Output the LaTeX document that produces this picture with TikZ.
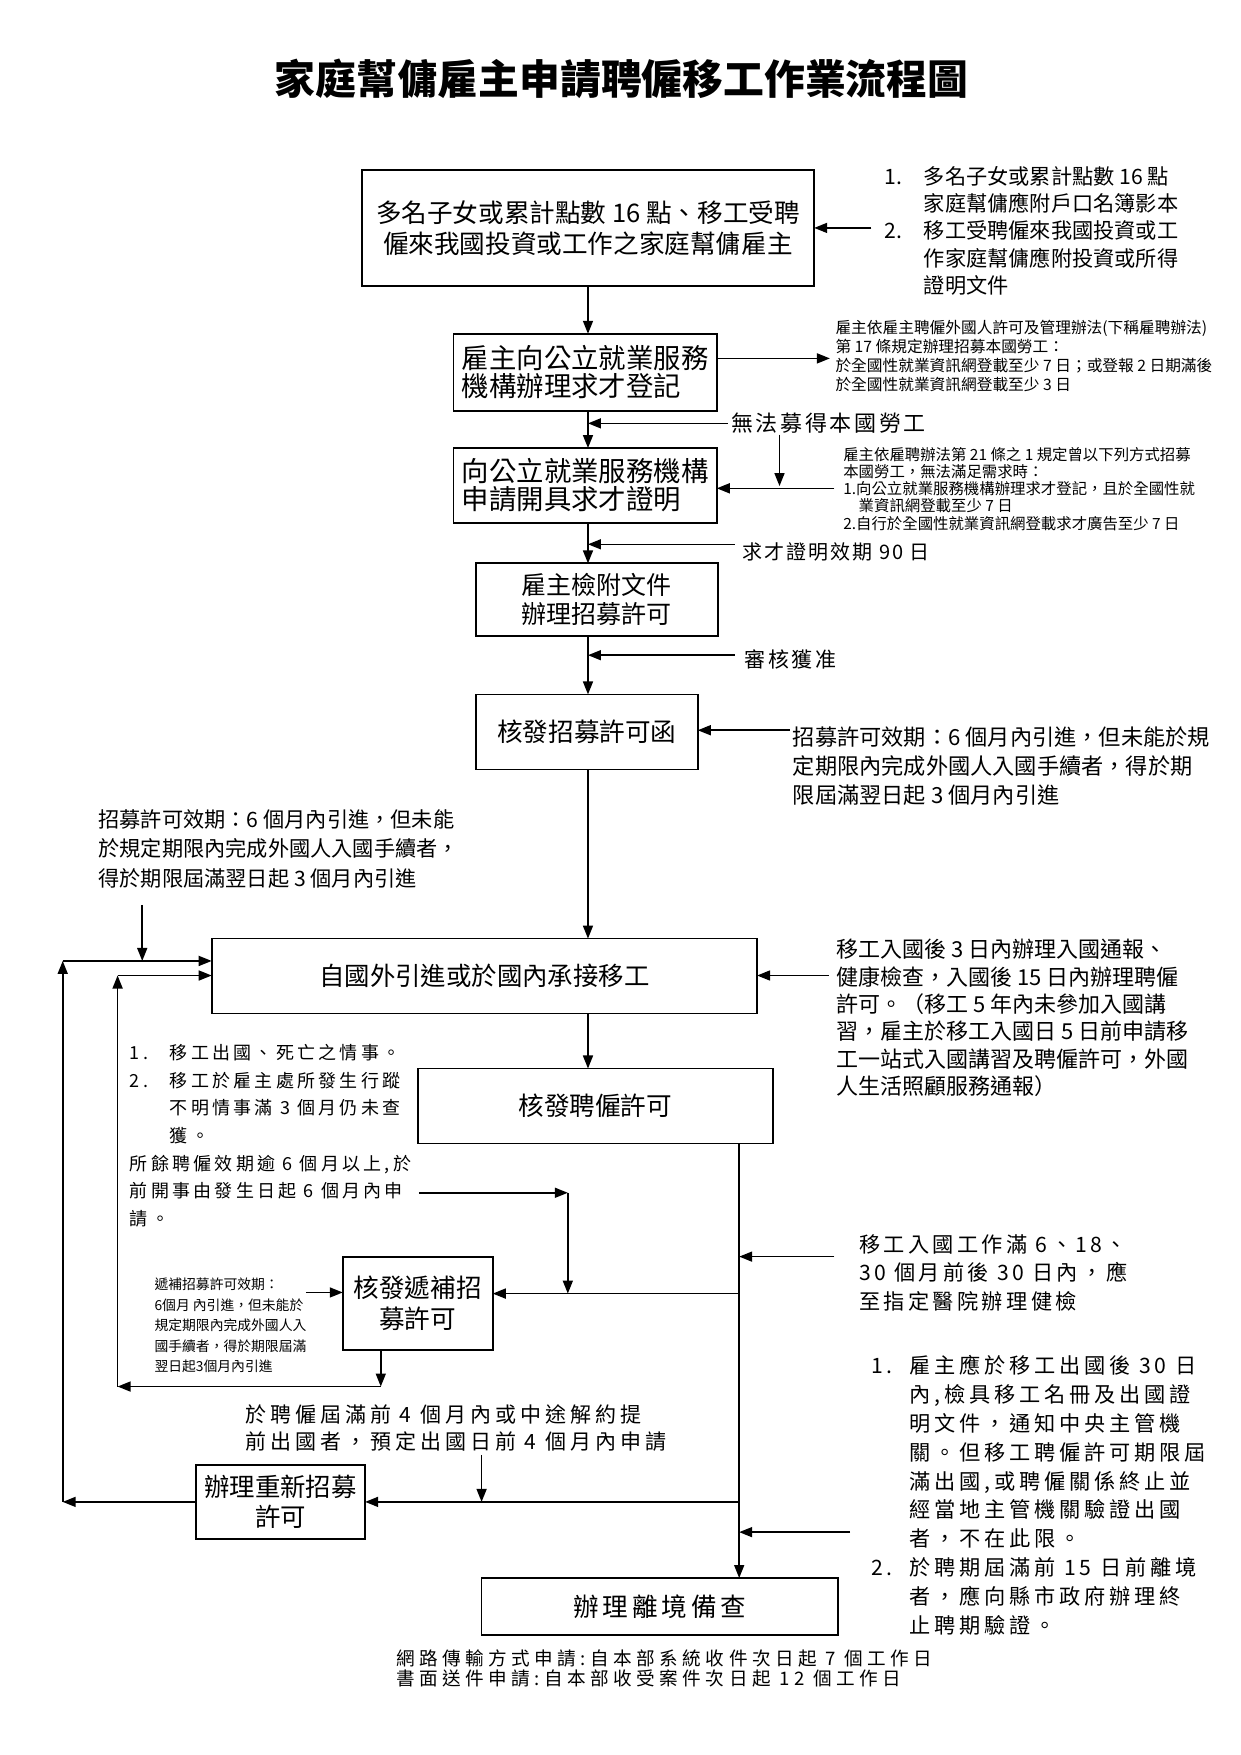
\documentclass[tikz,border=0pt]{standalone}
\usepackage{fontspec}
\setmainfont{Noto Sans CJK TC}
\usetikzlibrary{arrows.meta}
\newcommand\fsz[2]{\fontsize{#1pt}{#2pt}\selectfont}
\newcommand\lsp[1]{\addfontfeatures{LetterSpace=#1}}
\begin{document}
\begin{tikzpicture}[x=0.56pt,y=-0.56pt,
  box/.style={draw,line width=0.9pt,inner sep=0pt,outer sep=0pt,align=center},
  lbox/.style={draw,line width=0.9pt,inner sep=0pt,outer sep=0pt,align=left},
  note/.style={inner sep=0pt,outer sep=0pt,anchor=west,align=left},
  arr/.style={line width=0.8pt,-{Triangle[length=6.5pt,width=5pt]}},
  ln/.style={line width=0.8pt}]
\fill[white] (0,0) rectangle (1108,1567);
\useasboundingbox (0,0) rectangle (1108,1567);
% reference coordinates
\coordinate (mx) at (525,0);
\coordinate (vx) at (660,0);
% title
\node[inner sep=0pt] (title) at (555,70) {\fsz{20.4}{24}\bfseries 家庭幫傭雇主申請聘僱移工作業流程圖};
% boxes
\node[box,minimum width=226.2pt,minimum height=57.7pt,font=\fsz{12.8}{15.7}] (b1) at (525,203.5) {多名子女或累計點數 16 點、移工受聘\\僱來我國投資或工作之家庭幫傭雇主};
\node[lbox,minimum width=131.6pt,minimum height=38.6pt,font=\fsz{13.7}{14}] (b2) at (522.5,332.5) {雇主向公立就業服務\\機構辦理求才登記};
\node[lbox,minimum width=131.6pt,minimum height=37.5pt,font=\fsz{13.7}{14}] (b3) at (522.5,433.5) {向公立就業服務機構\\申請開具求才證明};
\node[box,minimum width=121pt,minimum height=36.4pt,font=\fsz{12.5}{14.6}] (b4) at (533,535.5) {雇主檢附文件\\辦理招募許可};
\node[box,minimum width=110.9pt,minimum height=37.5pt,font=\fsz{12.8}{14}] (b5) at (524,653.5) {核發招募許可函};
\node[box,minimum width=272.7pt,minimum height=37.5pt,font=\fsz{12.7}{14}] (b6) at (432.5,871.5) {自國外引進或於國內承接移工};
\node[box,minimum width=177.5pt,minimum height=37.5pt,font=\fsz{12.8}{14}] (b7) at (531.5,987.5) {核發聘僱許可};
\node[box,minimum width=75pt,minimum height=46.5pt,font=\fsz{12.8}{15.7}] (b8) at (373,1163.5) {核發遞補招\\募許可};
\node[box,minimum width=84.6pt,minimum height=37pt,font=\fsz{12.7}{15}] (b9) at (250.5,1341) {辦理重新招募\\許可};
\node[box,minimum width=178.1pt,minimum height=28.6pt,font={\fsz{12.8}{14}\lsp{15}}] (b11) at (589,1434.5) {辦理離境備查};
% notes
\node[note,font=\fsz{10.6}{13.7}] (n1) at (790,206) {\makebox[19.6pt][l]{1.}多名子女或累計點數 16 點\\\hspace*{19.6pt}家庭幫傭應附戶口名簿影本\\\makebox[19.6pt][l]{2.}移工受聘僱來我國投資或工\\\hspace*{19.6pt}作家庭幫傭應附投資或所得\\\hspace*{19.6pt}證明文件};
\node[note,font=\fsz{7.85}{9.5}] (n2) at (746,318) {雇主依雇主聘僱外國人許可及管理辦法(下稱雇聘辦法)\\第 17 條規定辦理招募本國勞工：\\於全國性就業資訊網登載至少 7 日；或登報 2 日期滿後\\於全國性就業資訊網登載至少 3 日};
\node[note,font={\fsz{11}{13}\lsp{12}}] (t1) at (653,378) {無法募得本國勞工};
\node[note,font=\fsz{7.7}{8.6}] (n3) at (753,436.5) {雇主依雇聘辦法第 21 條之 1 規定曾以下列方式招募\\本國勞工，無法滿足需求時：\\1.向公立就業服務機構辦理求才登記，且於全國性就\\\hspace*{1em}業資訊網登載至少 7 日\\2.自行於全國性就業資訊網登載求才廣告至少 7 日};
\node[note,font={\fsz{10}{12}\lsp{10}}] (t2) at (663,493) {求才證明效期 90 日};
\node[note,font={\fsz{10.5}{12}\lsp{12}}] (t3) at (665,589) {審核獲准};
\node[note,font=\fsz{11.1}{14.6}] (n4) at (708,684) {招募許可效期：6 個月內引進，但未能於規\\定期限內完成外國人入國手續者，得於期\\限屆滿翌日起 3 個月內引進};
\node[note,font=\fsz{10.6}{14.6}] (n5) at (88,758) {招募許可效期：6 個月內引進，但未能\\於規定期限內完成外國人入國手續者，\\得於期限屆滿翌日起 3 個月內引進};
\node[note,font=\fsz{11}{13.7}] (n6) at (747,909) {移工入國後 3 日內辦理入國通報、\\健康檢查，入國後 15 日內辦理聘僱\\許可。（移工 5 年內未參加入國講\\習，雇主於移工入國日 5 日前申請移\\工一站式入國講習及聘僱許可，外國\\人生活照顧服務通報）};
\node[note,font={\fsz{9}{13.8}\lsp{18}}] (n7) at (116,1014) {\makebox[20pt][l]{1.}移工出國、死亡之情事。\\\makebox[20pt][l]{2.}移工於雇主處所發生行蹤\\\hspace*{20pt}不明情事滿 3 個月仍未查\\\hspace*{20pt}獲。\\所餘聘僱效期逾 6 個月以上,於\\前開事由發生日起 6 個月內申\\請。};
\node[note,font={\fsz{10.6}{14.3}\lsp{16}}] (n8) at (767,1136.5) {移工入國工作滿 6、18、\\30 個月前後 30 日內，應\\至指定醫院辦理健檢};
\node[note,font=\fsz{6.9}{10.2}] (n9) at (138,1183.5) {遞補招募許可效期：\\6個月 內引進，但未能於\\規定期限內完成外國人入\\國手續者，得於期限屆滿\\翌日起3個月內引進};
\node[note,font={\fsz{10.5}{13.4}\lsp{19}}] (n10) at (219,1275) {於聘僱屆滿前 4 個月內或中途解約提\\前出國者，預定出國日前 4 個月內申請};
\node[note,font={\fsz{10.6}{14.4}\lsp{18}}] (n11) at (778,1335) {\makebox[19pt][l]{1.}雇主應於移工出國後 30 日\\\hspace*{19pt}內,檢具移工名冊及出國證\\\hspace*{19pt}明文件，通知中央主管機\\\hspace*{19pt}關。但移工聘僱許可期限屆\\\hspace*{19pt}滿出國,或聘僱關係終止並\\\hspace*{19pt}經當地主管機關驗證出國\\\hspace*{19pt}者，不在此限。\\\makebox[19pt][l]{2.}於聘期屆滿前 15 日前離境\\\hspace*{19pt}者，應向縣市政府辦理終\\\hspace*{19pt}止聘期驗證。};
\node[note,font={\fsz{9.3}{10}\lsp{24}}] (foot) at (354,1490) {網路傳輸方式申請:自本部系統收件次日起 7 個工作日\\書面送件申請:自本部收受案件次日起 12 個工作日};
% helper coordinates
\coordinate (c1) at (778,203.5);
\coordinate (c2) at (741,320);
\coordinate (c3) at (650,378);
\coordinate (c4) at (696,388);
\coordinate (c4b) at (696,434);
\coordinate (c5) at (745,436);
\coordinate (c6) at (656,486);
\coordinate (c7) at (656,585);
\coordinate (c8) at (705,652);
\coordinate (c9) at (740,871);
\coordinate (o1) at (56,858);
\coordinate (o2) at (56,1341);
\coordinate (c10) at (127,808);
\coordinate (i1) at (105,871);
\coordinate (i2) at (105,1238);
\coordinate (d1) at (340,1238);
\coordinate (c11) at (745,1122);
\coordinate (c12) at (660,1155);
\coordinate (c13) at (374,1065);
\coordinate (c14) at (507,1065);
\coordinate (c14b) at (507,1155);
\coordinate (c15) at (273,1154);
\coordinate (c16) at (430,1299);
\coordinate (c16b) at (430,1341);
\coordinate (c17) at (759,1368);
% connectors
\draw[arr] (c1) -- (b1.east);
\draw[arr] (b1.south -| mx) -- (b2.north -| mx);
\draw[arr] (b2.east |- c2) -- (c2);
\draw[arr] (b2.south -| mx) -- (b3.north -| mx);
\draw[arr] (c3) -- (c3 -| mx);
\draw[arr] (c4) -- (c4b);
\draw[arr] (c5) -- (c5 -| b3.east);
\draw[arr] (b3.south -| mx) -- (b4.north -| mx);
\draw[arr] (c6) -- (c6 -| mx);
\draw[arr] (b4.south -| mx) -- (b5.north -| mx);
\draw[arr] (c7) -- (c7 -| mx);
\draw[arr] (c8) -- (c8 -| b5.east);
\draw[arr] (b5.south -| mx) -- (b6.north -| mx);
\draw[arr] (c9) -- (c9 -| b6.east);
\draw[arr] (b6.south -| mx) -- (b7.north -| mx);
\draw[arr] (b9.west) -- (o2);
\draw[arr] (o2) -- (o1);
\draw[arr] (o1) -- (o1 -| b6.west);
\draw[arr] (c10) -- (c10 |- o1);
\draw[arr] (b8.south -| d1) -- (d1);
\draw[arr] (d1) -- (i2);
\draw[arr] (i2) -- (i1);
\draw[arr] (i1) -- (i1 -| b6.west);
\draw[arr] (b7.south -| vx) -- (b11.north -| vx);
\draw[arr] (c11) -- (c11 -| vx);
\draw[arr] (c12) -- (c12 -| b8.east);
\draw[arr] (c13) -- (c14);
\draw[arr] (c14) -- (c14b);
\draw[arr] (c15) -- (c15 -| b8.west);
\draw[arr] (c16) -- (c16b);
\draw[arr] (c16b -| vx) -- (b9.east);
\draw[arr] (c17) -- (c17 -| vx);
\end{tikzpicture}
\end{document}
